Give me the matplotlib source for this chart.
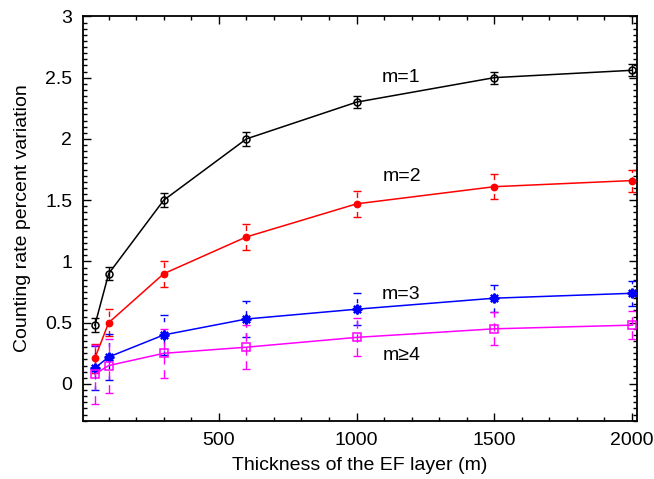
import matplotlib
matplotlib.use("Agg")
import matplotlib.pyplot as plt
from matplotlib.ticker import MultipleLocator

# Data
thickness = [50, 100, 300, 600, 1000, 1500, 2000]

m1 = [0.48, 0.90, 1.50, 2.00, 2.30, 2.50, 2.56]
m1_err = [0.055, 0.055, 0.055, 0.055, 0.05, 0.05, 0.05]

m2 = [0.21, 0.50, 0.90, 1.20, 1.47, 1.61, 1.66]
m2_err = [0.12, 0.11, 0.105, 0.105, 0.105, 0.10, 0.09]

m3 = [0.13, 0.22, 0.40, 0.53, 0.61, 0.70, 0.74]
m3_err = [0.18, 0.185, 0.165, 0.15, 0.13, 0.11, 0.10]

m4 = [0.08, 0.15, 0.25, 0.30, 0.38, 0.45, 0.48]
m4_err = [0.24, 0.22, 0.20, 0.18, 0.155, 0.135, 0.115]

# label, values, errors, colour, marker, marker size, face, errorbar dash, label position
series = [
    ("m=1", m1, m1_err, "black", "o", 5, "none", "-", (1160, 2.50)),
    ("m=2", m2, m2_err, "red", "o", 4.5, "red", (0, (4, 3)), (1165, 1.69)),
    ("m=3", m3, m3_err, "blue", (8, 2, 0), 7, "blue", (0, (3, 5)), (1160, 0.73)),
    ("m\u22654", m4, m4_err, "magenta", "s", 5.5, "none", (0, (6, 4)), (1165, 0.23)),
]

plt.rcParams["font.family"] = ["Liberation Sans", "DejaVu Sans"]

fig = plt.figure(figsize=(6.54, 4.79), dpi=100)
ax = fig.add_axes([0.1274, 0.1217, 0.8466, 0.8441])

for label, y, err, color, marker, ms, mfc, errstyle, text_pos in series:
    mew = 1.6 if marker == (8, 2, 0) else 1.1
    ax.plot(thickness, y, color=color, lw=1.1, marker=marker, ms=ms,
            mfc=mfc, mec=color, mew=mew, zorder=3)
    eb = ax.errorbar(thickness, y, yerr=err, fmt="none", ecolor=color,
                     elinewidth=1.0, capsize=3, capthick=1.0, zorder=2)
    eb[2][0].set_linestyle(errstyle)
    ax.text(text_pos[0], text_pos[1], label, fontsize=14, ha="center",
            va="center")

ax.set_xlim(8, 2018)
ax.set_ylim(-0.3, 3)
ax.xaxis.set_major_locator(MultipleLocator(500))
ax.xaxis.set_minor_locator(MultipleLocator(100))
ax.yaxis.set_major_locator(MultipleLocator(0.5))
ax.yaxis.set_minor_locator(MultipleLocator(0.05))
ax.yaxis.set_major_formatter(plt.FuncFormatter(lambda v, p: f"{v:g}"))
ax.tick_params(which="both", direction="in", top=True, right=True,
               labelsize=14, width=1.0)
ax.tick_params(which="major", length=6)
ax.tick_params(which="minor", length=3)
ax.tick_params(axis="x", pad=8)
ax.tick_params(axis="y", pad=8)
for s in ax.spines.values():
    s.set_linewidth(1.3)

ax.set_xlabel("Thickness of the EF layer (m)", fontsize=14, labelpad=6)
ax.set_ylabel("Counting rate percent variation", fontsize=14, labelpad=10)

fig.savefig("out.png", dpi=100)
